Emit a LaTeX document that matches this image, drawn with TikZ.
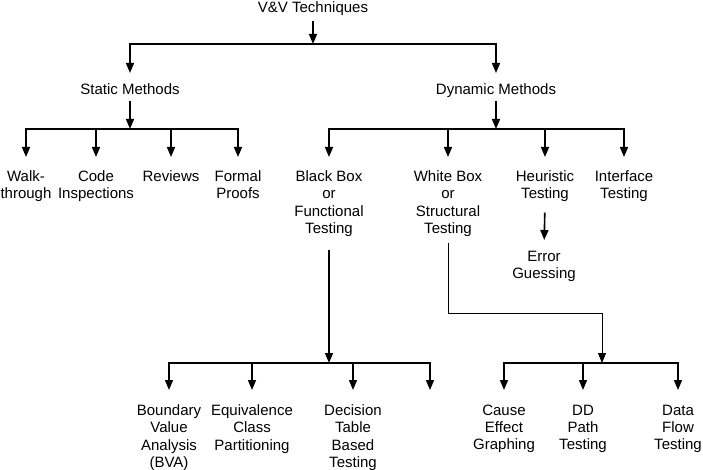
\documentclass[tikz,border=0pt]{standalone}
\usepackage{fontspec}
\setmainfont{Liberation Sans}
\usetikzlibrary{arrows.meta}

\begin{document}
\begin{tikzpicture}[
  x=1pt, y=-1pt,
  lbl/.style={anchor=north, align=center, inner sep=0pt, font=\fontsize{15}{17.3}\selectfont},
  bar/.style={line width=1.6pt, line cap=rect},
  arrow/.style={line width=1.6pt, -{Triangle[length=10pt, width=8pt]}},
  thinarrow/.style={line width=0.8pt, -{Triangle[length=10pt, width=8pt]}}
  ]
  \useasboundingbox (0,0) rectangle (703,470);

  % ========== root ==========
  \node[lbl] (vv) at (313,1.6) {V\&V Techniques};
  \coordinate (b0) at (313,44);
  \node[lbl] (sm) at (130,83.6) {Static Methods};
  \node[lbl] (dm) at (496,83.6) {Dynamic Methods};
  \draw[arrow, shorten <=4.6pt] (vv.south) -- (b0);
  \draw[bar] (sm.north |- b0) -- (dm.north |- b0);
  \draw[arrow, shorten >=10.6pt] (sm.north |- b0) -- (sm.north);
  \draw[arrow, shorten >=10.6pt] (dm.north |- b0) -- (dm.north);

  % ========== static methods ==========
  \coordinate (b1) at (130,129);
  \node[lbl] (wt) at (26,170.6) {Walk-\\through};
  \node[lbl] (ci) at (96,170.6) {Code\\Inspections};
  \node[lbl] (rv) at (171,170.6) {Reviews};
  \node[lbl] (fp) at (238,170.6) {Formal\\Proofs};
  \draw[arrow, shorten <=5.7pt] (sm.south) -- (b1);
  \draw[bar] (wt.north |- b1) -- (fp.north |- b1);
  \foreach \n in {wt, ci, rv, fp}
    \draw[arrow, shorten >=13.6pt] (\n.north |- b1) -- (\n.north);

  % ========== dynamic methods ==========
  \coordinate (b2) at (496,129);
  \node[lbl] (bb) at (329,170.6) {Black Box\\or\\Functional\\Testing};
  \node[lbl] (wb) at (448,170.6) {White Box\\or\\Structural\\Testing};
  \node[lbl] (ht) at (545,170.6) {Heuristic\\Testing};
  \node[lbl] (it) at (624,170.6) {Interface\\Testing};
  \node[lbl] (eg) at (544,250.6) {Error\\Guessing};
  \draw[arrow, shorten <=2.6pt] (dm.south) -- (b2);
  \draw[bar] (bb.north |- b2) -- (it.north |- b2);
  \foreach \n in {bb, wb, ht, it}
    \draw[arrow, shorten >=13.6pt] (\n.north |- b2) -- (\n.north);
  \draw[arrow, shorten <=10.3pt, shorten >=10.6pt] (ht.south) -- (eg.north);

  % ========== black box ==========
  \coordinate (b3) at (329,363);
  \node[lbl] (bva) at (169,404.6) {Boundary\\Value\\Analysis\\(BVA)};
  \node[lbl] (ecp) at (252,404.6) {Equivalence\\Class\\Partitioning};
  \node[lbl] (dtb) at (353,404.6) {Decision\\Table\\Based\\Testing};
  \coordinate (e4) at (430,390);
  \draw[arrow, shorten <=12.7pt] (bb.south) -- (b3);
  \draw[bar] (bva.north |- b3) -- (e4 |- b3);
  \foreach \n in {bva, ecp, dtb}
    \draw[arrow, shorten >=14.6pt] (\n.north |- b3) -- (\n.north);
  \draw[arrow] (e4 |- b3) -- (e4);

  % ========== white box ==========
  \coordinate (b4) at (602,363);
  \coordinate (wk) at (602,313);
  \node[lbl] (ceg) at (504,404.6) {Cause\\Effect\\Graphing};
  \node[lbl] (ddp) at (583,404.6) {DD\\Path\\Testing};
  \node[lbl] (dft) at (678,404.6) {Data\\Flow\\Testing};
  \draw[thinarrow, shorten <=5.7pt] (wb.south) |- (wk) -- (b4);
  \draw[bar] (ceg.north |- b4) -- (dft.north |- b4);
  \foreach \n in {ceg, ddp, dft}
    \draw[arrow, shorten >=14.6pt] (\n.north |- b4) -- (\n.north);
\end{tikzpicture}
\end{document}
